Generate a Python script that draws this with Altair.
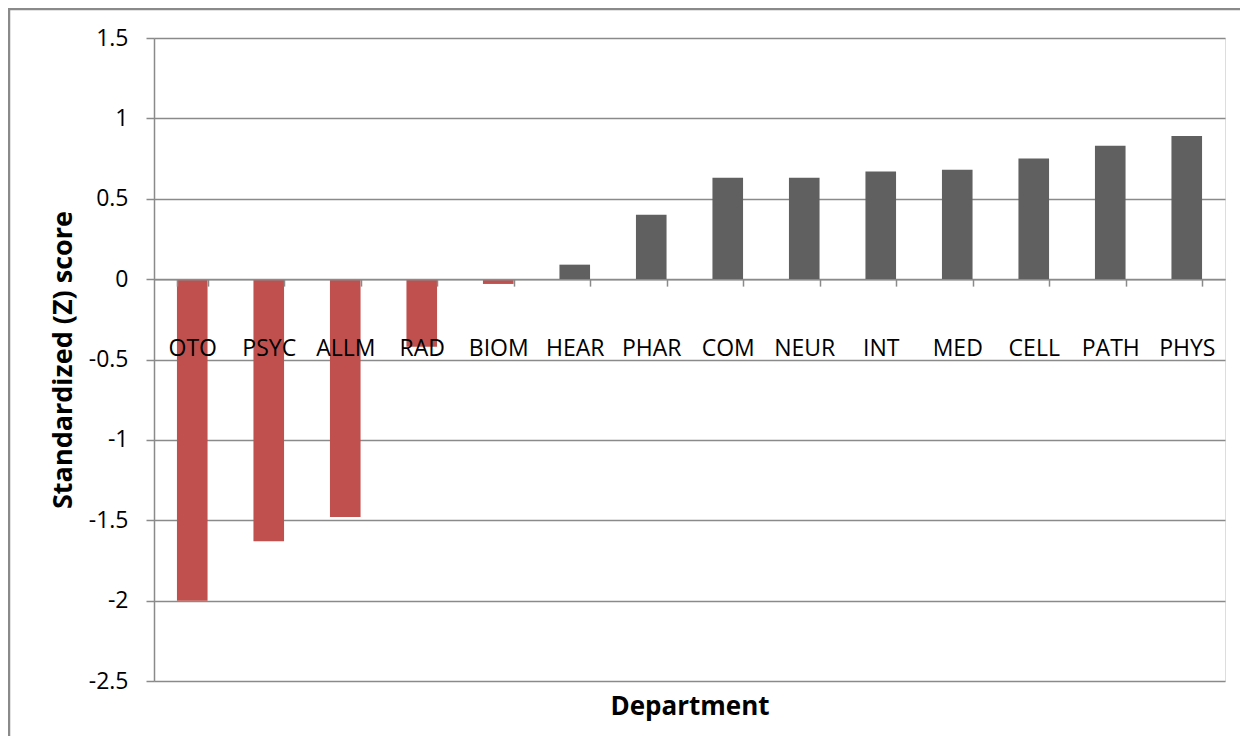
import altair as alt
import pandas as pd

departments = ["OTO", "PSYC", "ALLM", "RAD", "BIOM", "HEAR", "PHAR",
               "COM", "NEUR", "INT", "MED", "CELL", "PATH", "PHYS"]
z_scores = [-2.00, -1.63, -1.48, -0.42, -0.03, 0.09, 0.40,
            0.63, 0.63, 0.67, 0.68, 0.75, 0.83, 0.89]
y_ticks = [-2.5, -2.0, -1.5, -1.0, -0.5, 0.0, 0.5, 1.0, 1.5]

df = pd.DataFrame({"Department": departments, "Z": z_scores})

FONT = "Open Sans"
GRAY = "#8a8a8a"
W, H = 1071, 643

bars = alt.Chart(df).mark_bar().encode(
    x=alt.X(
        "Department:N",
        sort=departments,
        scale=alt.Scale(paddingInner=0.6, paddingOuter=0.3),
        axis=alt.Axis(
            title="Department",
            titleFont=FONT, titleFontSize=26, titleFontWeight="bold", titleColor="black",
            titleBaseline="alphabetic", titleY=435, titleX=W / 2,
            labelAngle=0, labelFont=FONT, labelFontSize=23, labelColor="black",
            labelBaseline="alphabetic", labelPadding=69,
            tickBand="extent", tickSize=7, tickColor=GRAY, tickWidth=1.5,
            domainColor=GRAY, domainWidth=1.5,
            offset=-(H * 2.5 / 4.0), grid=False, zindex=1,
        ),
    ),
    y=alt.Y(
        "Z:Q",
        scale=alt.Scale(domain=[-2.5, 1.5], nice=False, zero=False),
        axis=alt.Axis(
            title="Standardized (Z) score",
            titleFont=FONT, titleFontSize=27, titleFontWeight="bold", titleColor="black",
            titleBaseline="alphabetic", titleX=-83, titleY=H / 2, titleAngle=-90,
            values=y_ticks, labelExpr="toString(datum.value)",
            labelFont=FONT, labelFontSize=23, labelColor="black", labelPadding=18,
            tickSize=8, tickColor=GRAY, tickWidth=1.5,
            domainColor=GRAY, domainWidth=1.5,
            grid=True, gridColor=GRAY, gridWidth=1.5, zindex=0,
        ),
    ),
    color=alt.condition("datum.Z < 0", alt.value("#C0504D"), alt.value("#606060")),
)

frame = alt.Chart(df).mark_rect(fill=None, stroke=GRAY, strokeWidth=2.5, clip=False).encode(
    x=alt.value(-145), y=alt.value(-29), x2=alt.value(1300), y2=alt.value(900)
).transform_filter("datum.Department == 'OTO'")

chart = alt.layer(frame, bars).properties(
    width=W, height=H,
    autosize=alt.AutoSizeParams(type="none"),
    padding={"left": 146, "top": 30, "right": 15, "bottom": 55},
).configure_view(stroke=None).configure(background="white")

chart.save("out.html", embed_options={"renderer": "svg", "actions": False})
